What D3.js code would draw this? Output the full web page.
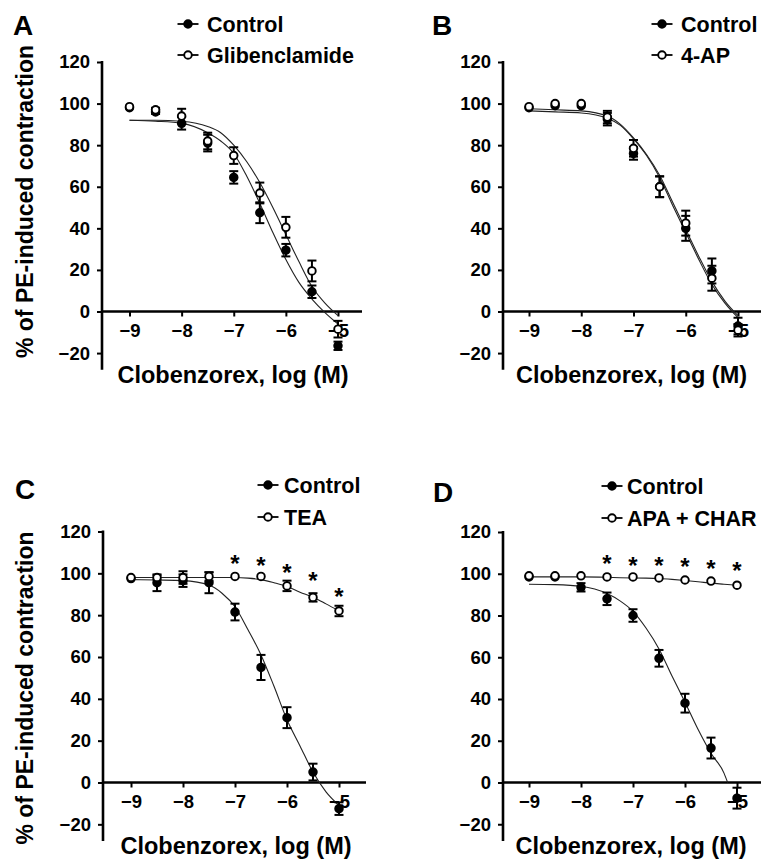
<!DOCTYPE html>
<html>
<head>
<meta charset="utf-8">
<script src="https://cdn.jsdelivr.net/npm/d3@7"></script>
<style>
  body { margin: 0; background: #fff; }
  svg { display: block; font-family: 'Liberation Sans', Arial, sans-serif; font-weight: bold; }
</style>
</head>
<body>
<script>
// concentrations (log M)
const doses = [-9, -8.5, -8, -7.5, -7, -6.5, -6, -5.5, -5];
const fitDoses = [-9, -8.5, -8, -7.5, -7.25, -7, -6.75, -6.5, -6.25, -6, -5.75, -5.5, -5.25, -5];
const fitDosesD = [-9, -8.5, -8, -7.5, -7.25, -7, -6.75, -6.5, -6.25, -6, -5.75, -5.5, -5.25, -5.18];
const yTicks = [-20, 0, 20, 40, 60, 80, 100, 120];
const xTicks = [-9, -8, -7, -6, -5];

// panel A
const aControl = [98, 96, 90.5, 81, 64.5, 47.5, 29.5, 9.5, -16.5];
const aControlErr = [0, 1, 3, 4, 3, 5, 3, 3, 2];
const aGlib = [98.5, 97, 94, 82, 75, 57, 40.5, 19.5, -8.5];
const aGlibErr = [0, 1, 3.5, 4, 4, 5, 5, 5, 4];
const aControlFit = [92, 91.5, 90.5, 86, 82, 76, 65, 52, 38, 25, 14, 6, -0.5, -6];
const aGlibFit = [92, 92, 91.5, 89, 86, 80, 72, 62, 50, 37, 24, 12, 4, -2];

// panel B
const bControl = [98, 99, 99, 92.5, 76, 60, 40, 19.5, -7];
const bControlErr = [0, 0, 0, 3, 3, 5, 6, 6, 4];
const b4AP = [98.5, 100, 100, 93.5, 78.5, 60, 42.5, 16, -9];
const b4APErr = [0, 0, 0, 3, 4, 5, 6, 6, 3];
const bControlFit = [96.5, 96, 95.5, 93, 89.5, 83, 75, 64.5, 51, 38, 25, 13, 4, -3];
const b4APFit = [97.5, 97, 96.5, 94, 90, 83.5, 75.5, 65.5, 52.5, 39.5, 26.5, 14.5, 5, -2];

// panel C
const cControl = [97.5, 95.5, 96.5, 95.5, 81.5, 55, 31, 5, -12.5];
const cControlErr = [0, 4, 3, 5, 4, 6, 5, 4, 3];
const cTEA = [98, 98, 98, 98.5, 98.5, 98.5, 94, 88.5, 82];
const cTEAErr = [0, 1, 3, 2, 0, 0, 2.5, 2, 2.5];
const cControlFit = [97, 96.8, 96.5, 94.4, 90.5, 84, 73, 61, 46, 30, 17.5, 5, -4.5, -11];
const cTEAFit = [98, 98, 98, 98, 98, 98, 97.7, 97, 95.5, 93.7, 91, 88.6, 85.4, 82];
const cStarX = [-7, -6.5, -6, -5.5, -5];
const cStarY = [107, 106, 102.5, 98.5, 91];

// panel D
const dControl = [98.5, 98.5, 93.5, 88, 80, 59.5, 38, 16.5, -7.5];
const dControlErr = [0, 0, 2, 3, 3, 4, 4.5, 5, 5];
const dAPA = [99, 99, 99, 98.5, 98.5, 98, 97, 96.5, 94.5];
const dAPAErr = [0, 0, 0, 0, 0, 0, 0, 0, 0];
const dControlFit = [95, 94.8, 94, 90.5, 87, 82, 74, 64, 51, 38.5, 25.5, 14, 4.5, 0];
const dAPAFit = [98.5, 98.5, 98.5, 98.3, 98.1, 98, 97.9, 97.7, 97.3, 96.8, 96.2, 95.5, 95, 94.5];
const dStarX = [-7.5, -7, -6.5, -6, -5.5, -5];
const dStarY = [107, 106.3, 106.3, 105.5, 104.7, 103.5];

const panels = [
  {letter: 'A', names: ['Control', 'Glibenclamide'],
   series: [[aControl, aControlErr], [aGlib, aGlibErr]], fits: [[fitDoses, aControlFit], [fitDoses, aGlibFit]], stars: null,
   letterX: 13, letterY: 35, axisX: 102, x0: 129.5, x1: 338, yTop: 62, yZero: 311.5, xEnd: 362,
   legX: 188, legTextX: 207, legY: [24, 55], xLabelX: 233, xLabelY: 383, yLabelY: 201.5},
  {letter: 'B', names: ['Control', '4-AP'],
   series: [[bControl, bControlErr], [b4AP, b4APErr]], fits: [[fitDoses, bControlFit], [fitDoses, b4APFit]], stars: null,
   letterX: 432, letterY: 35, axisX: 503, x0: 529, x1: 738, yTop: 62, yZero: 311.5, xEnd: 761,
   legX: 662, legTextX: 681, legY: [24, 55], xLabelX: 631.5, xLabelY: 383, yLabelY: null},
  {letter: 'C', names: ['Control', 'TEA'],
   series: [[cControl, cControlErr], [cTEA, cTEAErr]], fits: [[fitDoses, cControlFit], [fitDoses, cTEAFit]], stars: [cStarX, cStarY],
   letterX: 15, letterY: 499, axisX: 103, x0: 131, x1: 339, yTop: 531.5, yZero: 782.5, xEnd: 366,
   legX: 268, legTextX: 284, legY: [485, 517], xLabelX: 236, xLabelY: 854, yLabelY: 688},
  {letter: 'D', names: ['Control', 'APA + CHAR'],
   series: [[dControl, dControlErr], [dAPA, dAPAErr]], fits: [[fitDosesD, dControlFit], [fitDoses, dAPAFit]], stars: [dStarX, dStarY],
   letterX: 433, letterY: 502, axisX: 503, x0: 529, x1: 737, yTop: 532, yZero: 782.5, xEnd: 761,
   legX: 612, legTextX: 627, legY: [486, 518], xLabelX: 631, xLabelY: 854, yLabelY: null}
];

const width = 761;
const height = 859;
const r = 3.8;

const svg = d3.select('body').append('svg')
  .attr('width', width)
  .attr('height', height);

function drawMarker(g, cx, cy, filled) {
  g.append('circle')
    .attr('cx', cx)
    .attr('cy', cy)
    .attr('r', r)
    .attr('fill', filled ? '#000' : '#fff')
    .attr('stroke', '#000')
    .attr('stroke-width', 1.9);
}

panels.forEach(p => {
  const g = svg.append('g');

  const x = d3.scaleLinear().domain([-9, -5]).range([p.x0, p.x1]);
  const y = d3.scaleLinear().domain([0, 120]).range([p.yZero, p.yTop]);

  //panel letter
  g.append('text')
    .text(p.letter)
    .attr('x', p.letterX)
    .attr('y', p.letterY)
    .attr('font-size', 28);

  //y axis
  const yAxis = g.append('g')
    .attr('transform', 'translate(' + p.axisX + ',0)')
    .call(d3.axisLeft(y).tickValues(yTicks).tickSize(5).tickPadding(7).tickFormat(d3.format('d')));
  yAxis.select('.domain').remove();
  yAxis.selectAll('line').attr('stroke-width', 2);
  yAxis.selectAll('text').attr('font-size', 18.5).attr('font-family', null).attr('fill', '#000');
  g.append('line')
    .attr('x1', p.axisX).attr('x2', p.axisX)
    .attr('y1', y(120) - 1).attr('y2', y(-28))
    .attr('stroke', '#000').attr('stroke-width', 2.6);

  //x axis at zero
  const xAxis = g.append('g')
    .attr('transform', 'translate(0,' + p.yZero + ')')
    .call(d3.axisBottom(x).tickValues(xTicks).tickSize(5).tickPadding(7).tickFormat(d3.format('d')));
  xAxis.select('.domain').remove();
  xAxis.selectAll('line').attr('stroke-width', 2);
  xAxis.selectAll('text').attr('font-size', 18.5).attr('font-family', null).attr('fill', '#000');
  g.append('line')
    .attr('x1', p.axisX).attr('x2', p.xEnd)
    .attr('y1', p.yZero).attr('y2', p.yZero)
    .attr('stroke', '#000').attr('stroke-width', 2.6);

  //fitted curves
  const line = d3.line()
    .x(d => x(d[0]))
    .y(d => y(d[1]))
    .curve(d3.curveMonotoneX);
  p.fits.forEach(f => {
    g.append('path')
      .datum(f[0].map((d, i) => [d, f[1][i]]))
      .attr('d', line)
      .attr('fill', 'none')
      .attr('stroke', '#222')
      .attr('stroke-width', 1.1);
  });

  //error bars and points (control first, treatment on top)
  p.series.forEach((s, k) => {
    const vals = s[0];
    const errs = s[1];
    doses.forEach((d, i) => {
      if (errs[i] > 0) {
        const cx = x(d);
        const yHi = y(vals[i] + errs[i]);
        const yLo = y(vals[i] - errs[i]);
        g.append('line').attr('x1', cx).attr('x2', cx).attr('y1', yHi).attr('y2', yLo)
          .attr('stroke', '#000').attr('stroke-width', 2);
        [yHi, yLo].forEach(yy => {
          g.append('line').attr('x1', cx - 4.5).attr('x2', cx + 4.5).attr('y1', yy).attr('y2', yy)
            .attr('stroke', '#000').attr('stroke-width', 2);
        });
      }
    });
    doses.forEach((d, i) => drawMarker(g, x(d), y(vals[i]), k === 0));
  });

  //significance stars
  if (p.stars) {
    p.stars[0].forEach((d, i) => {
      g.append('text')
        .text('*')
        .attr('x', x(d))
        .attr('y', y(p.stars[1][i]) + 13)
        .attr('text-anchor', 'middle')
        .attr('font-size', 24);
    });
  }

  //legend
  p.names.forEach((name, i) => {
    const ly = p.legY[i];
    g.append('line')
      .attr('x1', p.legX - 10.5).attr('x2', p.legX + 10.5)
      .attr('y1', ly).attr('y2', ly)
      .attr('stroke', '#000').attr('stroke-width', 1.8);
    drawMarker(g, p.legX, ly, i === 0);
    g.append('text')
      .text(name)
      .attr('x', p.legTextX)
      .attr('y', ly + 8)
      .attr('font-size', 21.5);
  });

  //axis titles
  g.append('text')
    .text('Clobenzorex, log (M)')
    .attr('x', p.xLabelX)
    .attr('y', p.xLabelY)
    .attr('text-anchor', 'middle')
    .attr('font-size', 23.5);

  if (p.yLabelY !== null) {
    g.append('text')
      .text('% of PE-induced contraction')
      .attr('transform', 'translate(33,' + p.yLabelY + ') rotate(-90)')
      .attr('text-anchor', 'middle')
      .attr('font-size', 23);
  }
});
</script>
</body>
</html>
